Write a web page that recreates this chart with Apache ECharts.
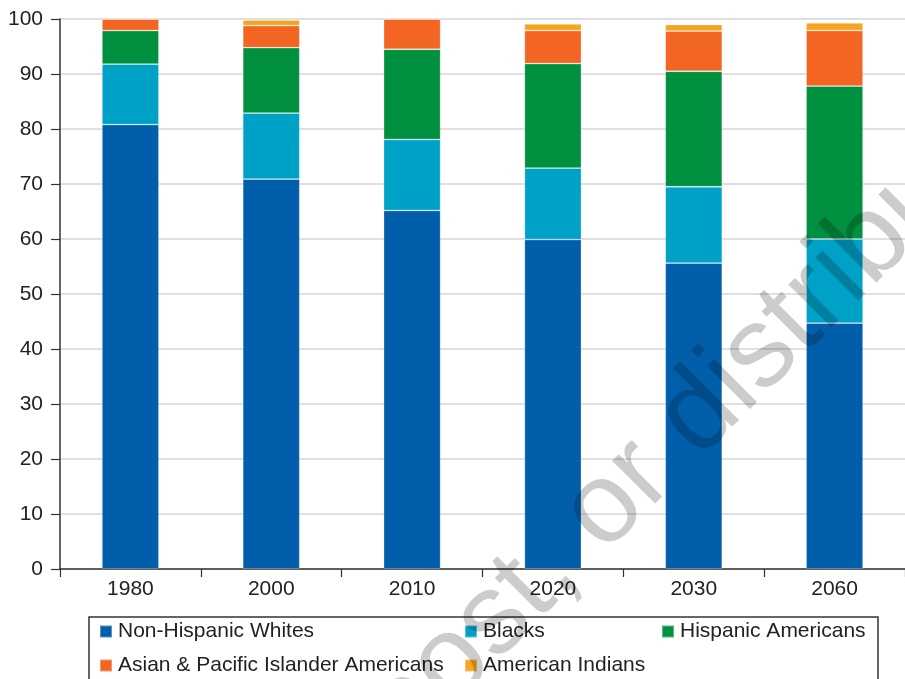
<!DOCTYPE html>
<html>
<head>
<meta charset="utf-8">
<script src="https://cdn.jsdelivr.net/npm/echarts@6/dist/echarts.min.js"></script>
<style>
html,body{margin:0;padding:0;background:#fff;}
#chart{width:905px;height:679px;}
</style>
</head>
<body>
<div id="chart"></div>
<script>
const categories = ['1980', '2000', '2010', '2020', '2030', '2060'];
const whites   = [80.8, 70.9, 65.2, 59.9, 55.6, 44.7];
const blacks   = [11.0, 12.0, 12.9, 13.0, 13.9, 15.3];
const hispanic = [6.1, 11.9, 16.4, 19.0, 21.0, 27.8];
const asian    = [2.1, 4.0, 5.5, 6.0, 7.3, 10.1];
const indians  = [0, 1.0, 0, 1.2, 1.2, 1.4];
const seriesNames = ['Non-Hispanic Whites', 'Blacks', 'Hispanic Americans',
  'Asian & Pacific Islander Americans', 'American Indians'];
const yTicks = { min: 0, max: 100, interval: 10 };

const colors = ['#005EAB', '#00A1C7', '#00903F', '#F26522', '#F7A521'];
const FONT = '"Liberation Sans", Arial, sans-serif';
const values = [whites, blacks, hispanic, asian, indians];

const series = seriesNames.map((name, i) => ({
  name: name,
  type: 'bar',
  stack: 'total',
  barWidth: 57,
  data: values[i],
  itemStyle: { color: colors[i], borderColor: 'rgba(255,255,255,0.35)', borderWidth: 0.8 },
  emphasis: { disabled: true }
}));

const legendPos = [
  { left: 99, top: 621 },
  { left: 464, top: 621 },
  { left: 661, top: 621 },
  { left: 99, top: 655 },
  { left: 464, top: 655 }
];
const legends = seriesNames.map((name, i) => ({
  data: [name],
  left: legendPos[i].left,
  top: legendPos[i].top,
  padding: 0,
  icon: 'rect',
  itemWidth: 12,
  itemHeight: 12,
  itemGap: 0,
  selectedMode: false,
  textStyle: { fontFamily: FONT, fontSize: 21, color: '#222', padding: [0, 0, 0, 1], lineHeight: 20 }
}));

const chart = echarts.init(document.getElementById('chart'), null, { renderer: 'canvas' });
chart.setOption({
  animation: false,
  backgroundColor: '#fff',
  grid: { left: 60, top: 19, width: 849, height: 550, containLabel: false },
  legend: legends,
  xAxis: {
    type: 'category',
    data: categories,
    boundaryGap: true,
    axisLine: { lineStyle: { color: '#333', width: 1.5 } },
    axisTick: { show: true, length: 8, alignWithLabel: false, lineStyle: { color: '#333', width: 1.2 } },
    axisLabel: { fontFamily: FONT, fontSize: 21, color: '#222', margin: 10 },
    splitLine: { show: false }
  },
  yAxis: {
    type: 'value',
    min: yTicks.min,
    max: yTicks.max,
    interval: yTicks.interval,
    axisLine: { show: true, lineStyle: { color: '#333', width: 1.5 } },
    axisTick: { show: true, length: 9, lineStyle: { color: '#333', width: 1.2 } },
    axisLabel: { fontFamily: FONT, fontSize: 21, color: '#222', margin: 17 },
    splitLine: { show: true, lineStyle: { color: '#d6d6d6', width: 1.5 } }
  },
  series: series,
  graphic: [
    {
      type: 'rect',
      shape: { x: 89, y: 617, width: 789, height: 90 },
      style: { fill: 'none', stroke: '#333', lineWidth: 1.5 },
      silent: true,
      z: 1
    },
    {
      type: 'text',
      x: 383, y: 731,
      rotation: 45 * Math.PI / 180,
      silent: true,
      z: 100,
      style: {
        text: 'post, or distribute',
        x: 0, y: 0,
        textAlign: 'left',
        textVerticalAlign: 'middle',
        fontFamily: FONT,
        fontSize: 115,
        fill: 'rgba(0,0,0,0.2)'
      }
    }
  ]
});
</script>
</body>
</html>
